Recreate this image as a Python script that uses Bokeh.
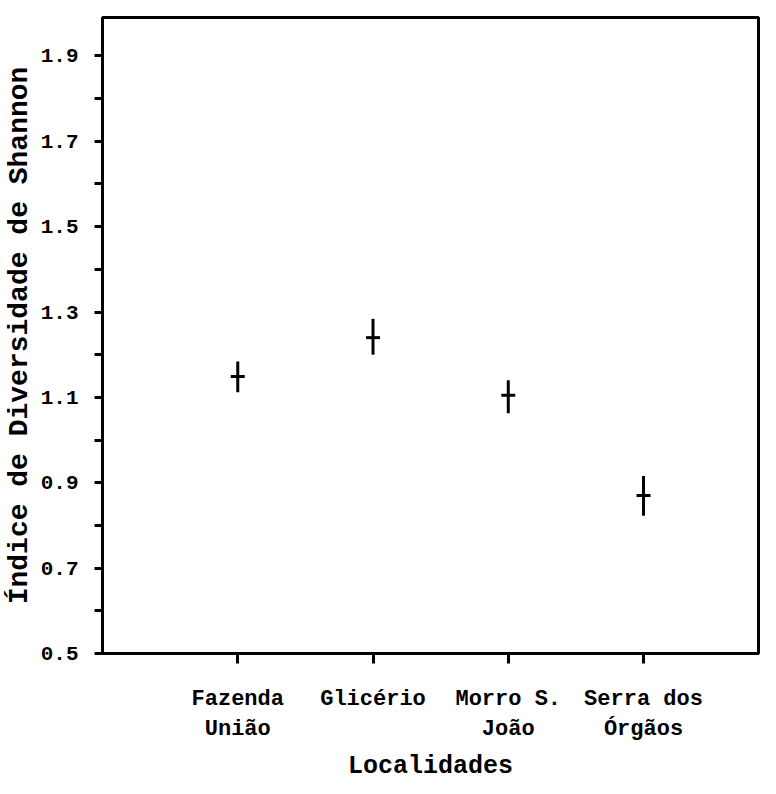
from bokeh.plotting import figure
from bokeh.models import FixedTicker, Range1d
from bokeh.embed import file_html
from bokeh.resources import INLINE

# ---- data ----
localidades = ["Fazenda\nUnião", "Glicério", "Morro S.\nJoão", "Serra dos\nÓrgãos"]
posicoes = [1, 2, 3, 4]
media = [1.149, 1.240, 1.105, 0.870]
limite_inferior = [1.112, 1.200, 1.063, 0.823]
limite_superior = [1.184, 1.284, 1.140, 0.916]
y_ticks = [0.5, 0.7, 0.9, 1.1, 1.3, 1.5, 1.7, 1.9]
y_minor = [0.6, 0.8, 1.0, 1.2, 1.4, 1.6, 1.8]

FONT = "Liberation Mono"

p = figure(width=760, height=783, output_backend="svg", toolbar_location=None,
           x_range=Range1d(0, 4.85), y_range=Range1d(0.5, 1.99),
           min_border_left=101, min_border_right=2, min_border_top=17,
           min_border_bottom=118)

p.grid.visible = False
p.background_fill_color = "white"
p.border_fill_color = "white"
p.outline_line_color = "black"
p.outline_line_width = 3

# error bars
p.segment(x0=posicoes, y0=limite_inferior, x1=posicoes, y1=limite_superior,
          line_color="black", line_width=3)
p.scatter(x=posicoes, y=media, marker="dash", size=14, line_color="black",
          line_width=3)

# y axis
ya = p.yaxis[0]
ya.ticker = FixedTicker(ticks=y_ticks, minor_ticks=y_minor)
ya.axis_line_width = 3
ya.major_tick_in = 0
ya.major_tick_out = 8
ya.minor_tick_in = 0
ya.minor_tick_out = 8
ya.major_tick_line_width = 3
ya.minor_tick_line_width = 3
ya.major_label_text_font = FONT
ya.major_label_text_font_style = "bold"
ya.major_label_text_font_size = "21px"
ya.major_label_text_color = "black"
ya.major_label_standoff = 16
ya.axis_label = "Índice de Diversidade de Shannon"
ya.axis_label_text_font = FONT
ya.axis_label_text_font_style = "bold"
ya.axis_label_text_font_size = "28px"
ya.axis_label_text_color = "black"
ya.axis_label_standoff = 3

# x axis
xa = p.xaxis[0]
xa.ticker = FixedTicker(ticks=posicoes, minor_ticks=[])
xa.major_label_overrides = {pos: lab for pos, lab in zip(posicoes, localidades)}
xa.axis_line_width = 3
xa.major_tick_in = 0
xa.major_tick_out = 10
xa.major_tick_line_width = 3
xa.minor_tick_out = 0
xa.major_label_text_font = FONT
xa.major_label_text_font_style = "bold"
xa.major_label_text_font_size = "22px"
xa.major_label_text_color = "black"
xa.major_label_standoff = 23
xa.axis_label = "Localidades"
xa.axis_label_text_font = FONT
xa.axis_label_text_font_style = "bold"
xa.axis_label_text_font_size = "25px"
xa.axis_label_text_color = "black"
xa.axis_label_standoff = 7

open("out.html", "w").write(file_html(p, INLINE))
